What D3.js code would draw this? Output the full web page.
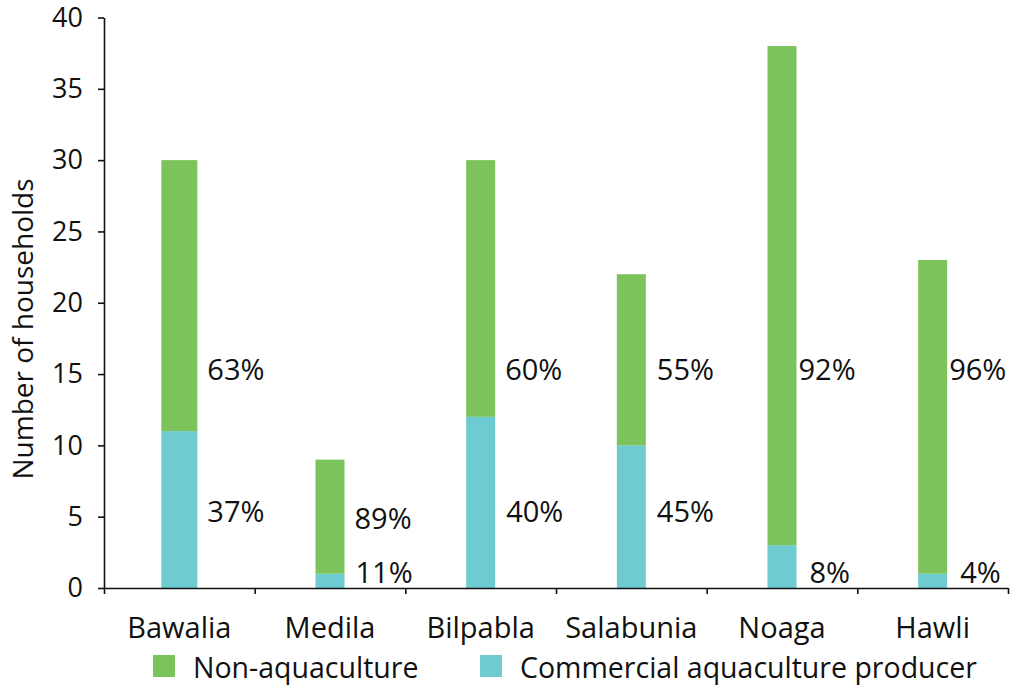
<!DOCTYPE html>
<html>
<head>
<meta charset="utf-8">
<script src="https://cdn.jsdelivr.net/npm/d3@7"></script>
<style>
  body { margin: 0; background: #fff; }
  text { font-family: "Open Sans", sans-serif; fill: #111; }
</style>
</head>
<body>
<div id="chart"></div>
<script>
const F_WIDTH = 1017;
const F_HEIGHT = 686;

// data
const VILLAGES = ["Bawalia", "Medila", "Bilpabla", "Salabunia", "Noaga", "Hawli"];
const COMMERCIAL = [11, 1, 12, 10, 3, 1];
const NON_AQUA = [19, 8, 18, 12, 35, 22];
const Y_TICKS = [0, 5, 10, 15, 20, 25, 30, 35, 40];
const SERIES_NAMES = ["Non-aquaculture", "Commercial aquaculture producer"];

// label placement (hand-moved in the original)
const LABEL_Y_NON = [15.35, 4.9, 15.35, 15.35, 15.35, 15.35];
const LABEL_Y_COM = [5.33, 1.05, 5.33, 5.33, 1.05, 1.05];
const LABEL_DX_NON = [10, 10, 10, 11, 2, 2];
const LABEL_DX_COM = [10, 11, 11, 11, 13, 13];
const BAR_W = [36, 29, 29, 29, 29, 29];

const GREEN = "#7dc35b";
const CYAN = "#6ecbd2";

const SVG = d3.select("#chart")
  .append("svg")
    .attr("width", F_WIDTH)
    .attr("height", F_HEIGHT);

const X_SCALE = d3.scaleBand()
  .domain(VILLAGES)
  .range([104, 1008]);

const Y_SCALE = d3.scaleLinear()
  .domain([0, 40])
  .range([588, 17.5]);

// bars
const rows = VILLAGES.map((v, i) => ({
  name: v, i: i, com: COMMERCIAL[i], non: NON_AQUA[i], total: COMMERCIAL[i] + NON_AQUA[i]
}));

const xLeft = (d) => X_SCALE(d.name) + X_SCALE.bandwidth() / 2 - BAR_W[d.i] / 2;

SVG.selectAll(".bar-com")
  .data(rows)
  .enter()
  .append("rect")
    .attr("x", xLeft)
    .attr("y", (d) => Y_SCALE(d.com))
    .attr("width", (d) => BAR_W[d.i])
    .attr("height", (d) => Y_SCALE(0) - Y_SCALE(d.com))
    .attr("fill", CYAN);

SVG.selectAll(".bar-non")
  .data(rows)
  .enter()
  .append("rect")
    .attr("x", xLeft)
    .attr("y", (d) => Y_SCALE(d.total))
    .attr("width", (d) => BAR_W[d.i])
    .attr("height", (d) => Y_SCALE(d.com) - Y_SCALE(d.total))
    .attr("fill", GREEN);

// percentage labels
SVG.selectAll(".lab-non")
  .data(rows)
  .enter()
  .append("text")
    .attr("x", (d) => xLeft(d) + BAR_W[d.i] + LABEL_DX_NON[d.i])
    .attr("y", (d) => Y_SCALE(LABEL_Y_NON[d.i]))
    .attr("dy", "0.36em")
    .attr("font-size", 29)
    .text((d) => Math.round(100 * d.non / d.total) + "%");

SVG.selectAll(".lab-com")
  .data(rows)
  .enter()
  .append("text")
    .attr("x", (d) => xLeft(d) + BAR_W[d.i] + LABEL_DX_COM[d.i])
    .attr("y", (d) => Y_SCALE(LABEL_Y_COM[d.i]))
    .attr("dy", "0.36em")
    .attr("font-size", 29)
    .text((d) => Math.round(100 * d.com / d.total) + "%");

// y-axis
const yAxis = SVG.append("g")
  .attr("transform", "translate(104,0)")
  .call(d3.axisLeft(Y_SCALE).tickValues(Y_TICKS).tickSize(6).tickSizeOuter(0).tickPadding(15));
yAxis.selectAll("text").attr("font-size", 27).attr("font-family", "Open Sans").attr("fill", "#111");
yAxis.selectAll("line, path").attr("stroke", "#111").attr("stroke-width", 1.6);

// x-axis: line + ticks between categories
const X_EDGES = d3.scaleLinear().domain([0, VILLAGES.length]).range(X_SCALE.range());
const xAxis = SVG.append("g")
  .attr("transform", "translate(0,588)")
  .call(d3.axisBottom(X_EDGES).ticks(VILLAGES.length).tickSize(6).tickSizeOuter(0).tickFormat(""));
xAxis.selectAll("line, path").attr("stroke", "#111").attr("stroke-width", 1.6);

// category labels
SVG.selectAll(".cat")
  .data(VILLAGES)
  .enter()
  .append("text")
    .attr("x", (d) => X_SCALE(d) + X_SCALE.bandwidth() / 2)
    .attr("y", 638)
    .attr("text-anchor", "middle")
    .attr("font-size", 29)
    .text((d) => d);

// y title
SVG.append("text")
  .attr("transform", "translate(33,329) rotate(-90)")
  .attr("text-anchor", "middle")
  .attr("font-size", 28)
  .text("Number of households");

// legend
const LEGEND_X = [153, 480];
const LEGEND_COLORS = [GREEN, CYAN];
const legend = SVG.selectAll(".legend")
  .data(SERIES_NAMES)
  .enter()
  .append("g")
    .attr("transform", (d, i) => "translate(" + LEGEND_X[i] + ",655)");
legend.append("rect")
  .attr("width", 22)
  .attr("height", 22)
  .attr("fill", (d, i) => LEGEND_COLORS[i]);
legend.append("text")
  .attr("x", 40)
  .attr("y", 23)
  .attr("font-size", 28.5)
  .text((d) => d);
</script>
</body>
</html>
